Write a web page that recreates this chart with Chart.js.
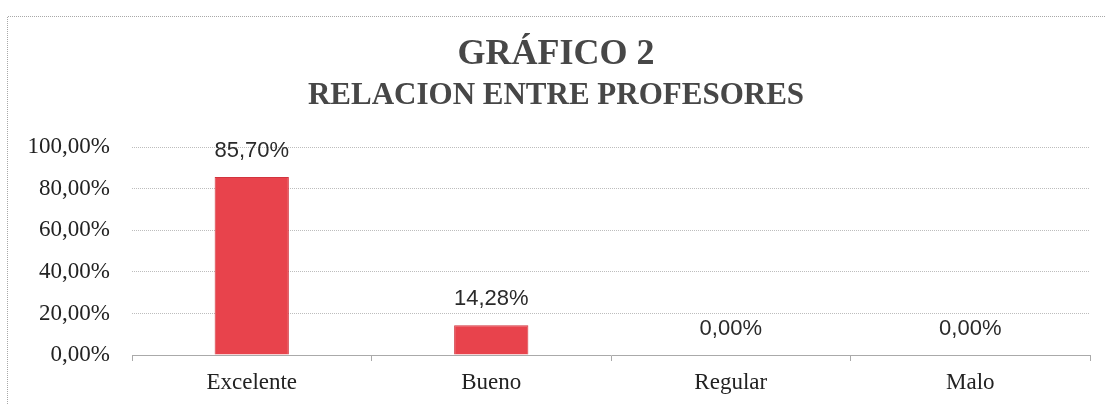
<!DOCTYPE html>
<html>
<head>
<meta charset="utf-8">
<script src="https://cdn.jsdelivr.net/npm/chart.js@4"></script>
<style>
  html, body { margin: 0; padding: 0; background: #fff; }
  #wrap { width: 1105px; height: 404px; position: relative; }
</style>
</head>
<body>
<div id="wrap"><canvas id="c" width="1105" height="404"></canvas></div>
<script>
const categories = ['Excelente', 'Bueno', 'Regular', 'Malo'];
const values = [85.70, 14.28, 0.00, 0.00];
const yTicks = [0, 20, 40, 60, 80, 100];
const titleText = 'GRÁFICO 2';
const subtitleText = 'RELACION ENTRE PROFESORES';

const fmt = v => v.toFixed(2).replace('.', ',') + '%';

const frame = {
  id: 'frame',
  beforeDraw(chart) {
    const ctx = chart.ctx;
    ctx.save();
    ctx.strokeStyle = '#a8a8a8';
    ctx.lineWidth = 1;
    ctx.setLineDash([1, 1]);
    ctx.beginPath();
    ctx.moveTo(7.5, 404);
    ctx.lineTo(7.5, 16.5);
    ctx.lineTo(1105, 16.5);
    ctx.stroke();
    ctx.restore();
  }
};

const valueLabels = {
  id: 'valueLabels',
  afterDatasetsDraw(chart) {
    const ctx = chart.ctx;
    const meta = chart.getDatasetMeta(0);
    ctx.save();
    ctx.font = '22px "Liberation Sans", Arial, sans-serif';
    ctx.fillStyle = '#2a2a2a';
    ctx.textAlign = 'center';
    ctx.textBaseline = 'middle';
    meta.data.forEach((bar, i) => {
      ctx.fillText(fmt(values[i]), bar.x, bar.y - 26);
    });
    ctx.restore();
  }
};

new Chart(document.getElementById('c'), {
  type: 'bar',
  data: {
    labels: categories,
    datasets: [{
      data: values,
      backgroundColor: '#E8434C',
      borderColor: '#D2343E',
      borderWidth: 1,
      barPercentage: 0.31,
      categoryPercentage: 1.0
    }]
  },
  plugins: [frame, valueLabels],
  options: {
    responsive: false,
    animation: false,
    layout: { padding: { left: 22, right: 15, top: 0, bottom: 0 } },
    plugins: {
      legend: { display: false },
      tooltip: { enabled: false },
      title: {
        display: true,
        text: titleText,
        color: '#474747',
        font: { family: '"Liberation Serif", "Times New Roman", serif', size: 36, weight: 'bold' },
        padding: { top: 33, bottom: 1 }
      },
      subtitle: {
        display: true,
        text: subtitleText,
        color: '#474747',
        font: { family: '"Liberation Serif", "Times New Roman", serif', size: 31, weight: 'bold' },
        padding: { top: 0, bottom: 33 }
      }
    },
    scales: {
      y: {
        min: 0,
        max: 100,
        afterFit(scale) { scale.width = 110; },
        afterBuildTicks(scale) { scale.ticks = yTicks.map(v => ({ value: v })); },
        ticks: {
          padding: 22,
          color: '#222',
          font: { family: '"Liberation Serif", "Times New Roman", serif', size: 23 },
          callback: v => fmt(v)
        },
        grid: {
          color: '#bdbdbd',
          drawTicks: false
        },
        border: { display: false, dash: [1, 1] }
      },
      x: {
        afterFit(scale) { scale.height = 49; },
        ticks: {
          padding: 8,
          color: '#222',
          font: { family: '"Liberation Serif", "Times New Roman", serif', size: 23 }
        },
        grid: {
          offset: true,
          drawOnChartArea: false,
          tickLength: 6,
          color: '#aaaaaa'
        },
        border: { display: true, color: '#aaaaaa', dash: [1, 1] }
      }
    }
  }
});
</script>
</body>
</html>
